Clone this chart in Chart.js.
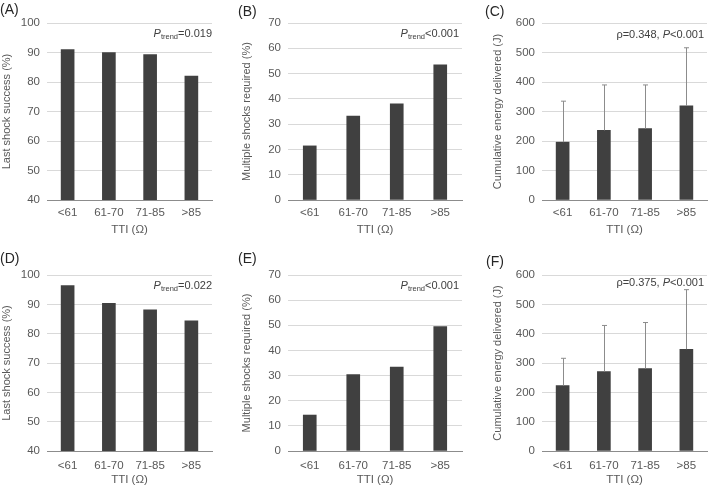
<!DOCTYPE html>
<html>
<head>
<meta charset="utf-8">
<script src="https://cdn.jsdelivr.net/npm/chart.js"></script>
<style>
body { margin: 0; background: #fff; width: 709px; height: 488px; position: relative; overflow: hidden; font-family: "Liberation Sans", Arial, sans-serif; }
.panel { position: absolute; }
.letter { position: absolute; font-size: 14px; color: #262626; line-height: 1; }
.note { position: absolute; font-size: 11px; color: #404040; white-space: nowrap; line-height: 1; }
.note sub { font-size: 7.5px; vertical-align: -2px; }
</style>
</head>
<body>

<canvas id="chartA" class="panel"></canvas>
<canvas id="chartB" class="panel"></canvas>
<canvas id="chartC" class="panel"></canvas>
<canvas id="chartD" class="panel"></canvas>
<canvas id="chartE" class="panel"></canvas>
<canvas id="chartF" class="panel"></canvas>

<div class="letter" style="left:0px;top:2px">(A)</div>
<div class="letter" style="left:238px;top:4px">(B)</div>
<div class="letter" style="left:485px;top:4px">(C)</div>
<div class="letter" style="left:0px;top:251px">(D)</div>
<div class="letter" style="left:238px;top:251px">(E)</div>
<div class="letter" style="left:486px;top:254px">(F)</div>

<div class="note" style="right:497px;top:28px"><i>P</i><sub>trend</sub>=0.019</div>
<div class="note" style="right:250px;top:28px"><i>P</i><sub>trend</sub>&lt;0.001</div>
<div class="note" style="right:5px;top:29px">ρ=0.348, <i>P</i>&lt;0.001</div>
<div class="note" style="right:497px;top:280px"><i>P</i><sub>trend</sub>=0.022</div>
<div class="note" style="right:250px;top:280px"><i>P</i><sub>trend</sub>&lt;0.001</div>
<div class="note" style="right:5px;top:277px">ρ=0.375, <i>P</i>&lt;0.001</div>

<script>
// data
const categories = ['<61', '61-70', '71-85', '>85'];

const lastShockTop = [91.0, 90.0, 89.3, 82.0];      // (A)
const multiShockTop = [21.4, 33.2, 38.0, 53.5];     // (B)
const energyTop = [196, 236, 242, 319];             // (C) mean
const energyTopSD = [139, 154, 148, 197];           // (C) upper error

const lastShockBottom = [96.4, 90.3, 88.1, 84.4];   // (D)
const multiShockBottom = [14.3, 30.4, 33.4, 49.5];  // (E)
const energyBottom = [223, 271, 281, 347];          // (F) mean
const energyBottomSD = [93, 157, 157, 203];         // (F) upper error

const FONT = '"Liberation Sans", Arial, sans-serif';
const TEXT = '#595959';

// upper-only error bars
const errorBars = {
  id: 'errorBars',
  afterDatasetsDraw(chart) {
    const ds = chart.data.datasets[0];
    if (!ds.errors) return;
    const meta = chart.getDatasetMeta(0);
    const y = chart.scales.y;
    const ctx = chart.ctx;
    ctx.save();
    ctx.strokeStyle = '#8c8c8c';
    ctx.lineWidth = 1;
    meta.data.forEach((bar, i) => {
      const x = Math.round(bar.x) + 0.5;
      const yTop = y.getPixelForValue(ds.data[i] + ds.errors[i]);
      ctx.beginPath();
      ctx.moveTo(x, bar.y);
      ctx.lineTo(x, yTop);
      ctx.moveTo(x - 2.5, yTop);
      ctx.lineTo(x + 2.5, yTop);
      ctx.stroke();
    });
    ctx.restore();
  }
};

function makePanel(id, box, values, errors, yTitle, yMin, yMax, yStep) {
  const canvas = document.getElementById(id);
  canvas.style.left = box.x + 'px';
  canvas.style.top = box.y + 'px';
  canvas.style.width = box.w + 'px';
  canvas.style.height = box.h + 'px';
  canvas.width = box.w;
  canvas.height = box.h;

  new Chart(canvas, {
    type: 'bar',
    data: {
      labels: categories,
      datasets: [{
        data: values,
        errors: errors,
        backgroundColor: '#404040',
        barThickness: 13
      }]
    },
    options: {
      responsive: false,
      animation: false,
      events: [],
      layout: { padding: { left: box.pl, right: box.pr, top: box.pt, bottom: box.pb } },
      plugins: { legend: { display: false }, tooltip: { enabled: false } },
      scales: {
        x: {
          grid: { display: false, drawTicks: false },
          border: { display: true, color: '#8c8c8c', width: 1 },
          ticks: { color: TEXT, font: { family: FONT, size: 11.5 }, padding: box.tp, maxRotation: 0 },
          title: { display: true, text: 'TTI (Ω)', color: TEXT, font: { family: FONT, size: 11.5 }, padding: 0 },
          afterFit(scale) { scale.height = box.xh; }
        },
        y: {
          min: yMin,
          max: yMax,
          grid: { color: '#d9d9d9', drawTicks: false },
          border: { display: false },
          ticks: { stepSize: yStep, color: TEXT, font: { family: FONT, size: 11.5 }, padding: 7 },
          title: { display: true, text: yTitle, color: TEXT, font: { family: FONT, size: 11 }, padding: 0 },
          afterFit(scale) { scale.width = box.yw; }
        }
      }
    },
    plugins: [errorBars]
  });
}

const topRow = { y: 0, h: 243, pt: 23, pb: 6, xh: 37, tp: 6 };
const bottomRow = { y: 243, h: 245, pt: 32, pb: 1.5, xh: 35.5, tp: 8 };

const colA = { x: 0, w: 236, pl: 0, pr: 24, yw: 47 };
const colB = { x: 236, w: 236, pl: 4, pr: 10, yw: 48 };
const colC = { x: 472, w: 237, pl: 19, pr: 2, yw: 51 };

makePanel('chartA', { ...colA, ...topRow }, lastShockTop, null, 'Last shock success (%)', 40, 100, 10);
makePanel('chartB', { ...colB, ...topRow }, multiShockTop, null, 'Multiple shocks required (%)', 0, 70, 10);
makePanel('chartC', { ...colC, ...topRow }, energyTop, energyTopSD, 'Cumulative energy delivered (J)', 0, 600, 100);
makePanel('chartD', { ...colA, ...bottomRow }, lastShockBottom, null, 'Last shock success (%)', 40, 100, 10);
makePanel('chartE', { ...colB, ...bottomRow }, multiShockBottom, null, 'Multiple shocks required (%)', 0, 70, 10);
makePanel('chartF', { ...colC, ...bottomRow }, energyBottom, energyBottomSD, 'Cumulative energy delivered (J)', 0, 600, 100);
</script>
</body>
</html>
